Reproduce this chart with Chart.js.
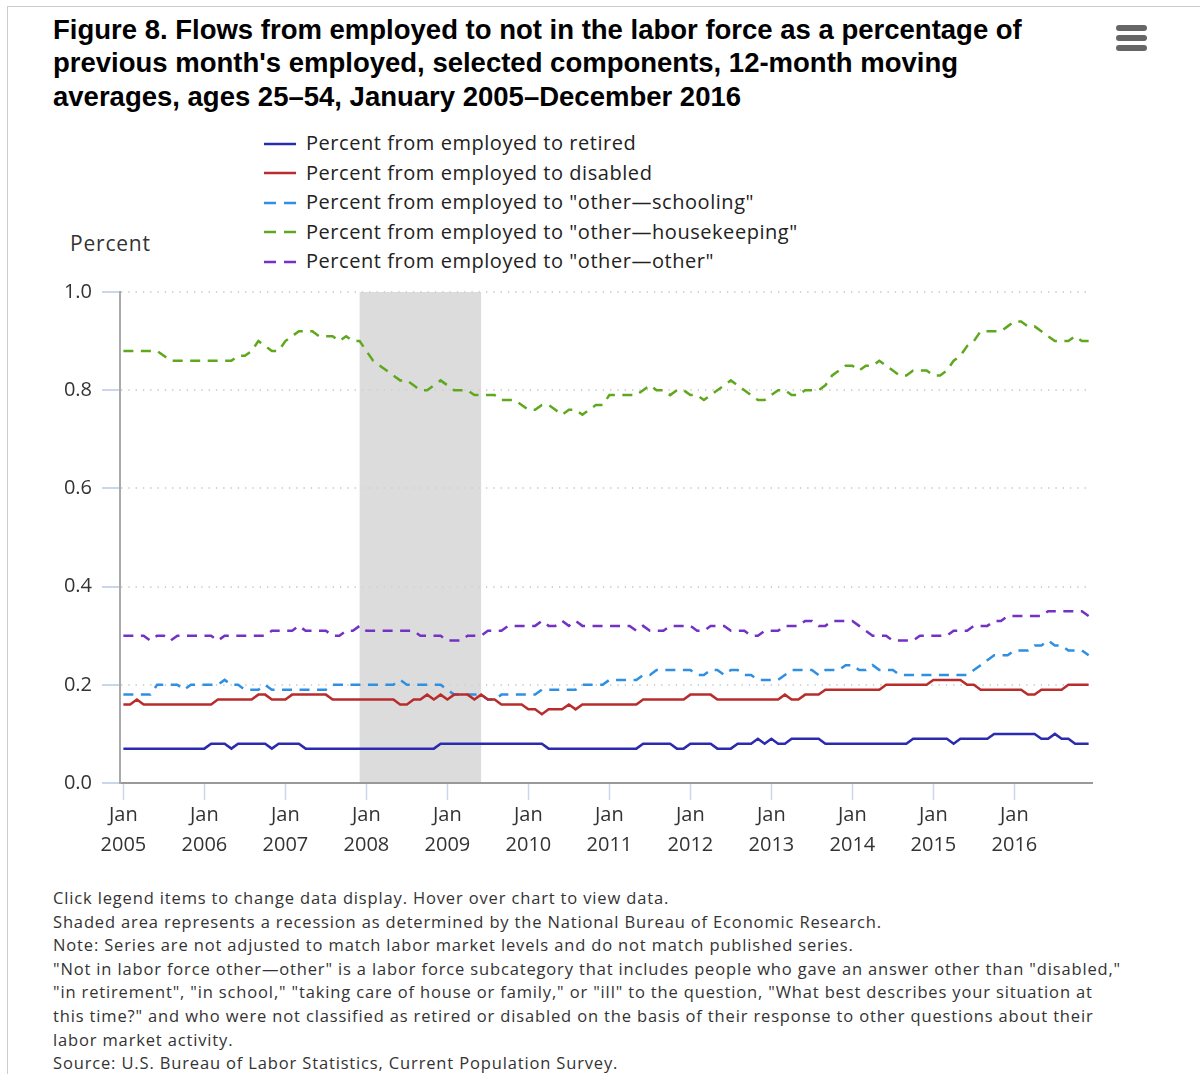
<!DOCTYPE html>
<html>
<head>
<meta charset="utf-8">
<script src="https://cdn.jsdelivr.net/npm/chart.js@4.4.1/dist/chart.umd.min.js"></script>
<style>
  html, body { margin: 0; padding: 0; background: #fff; }
  #wrap { position: relative; width: 1200px; height: 1074px; overflow: hidden; font-family: "Open Sans", sans-serif; }
  #frame { position: absolute; left: 7px; top: 6px; width: 1300px; height: 1200px; border: 1px solid #ccc; }
  #title { position: absolute; left: 53px; top: 13px; font: bold 27.5px/33.4px "Liberation Sans", Arial, sans-serif; color: #000; white-space: nowrap; }
  #menu { position: absolute; left: 1116px; top: 25px; width: 31px; }
  #menu div { height: 6px; background: #666; border-radius: 3px; margin-bottom: 4px; }
  #legend { position: absolute; left: 264px; top: 128px; font-size: 20px; letter-spacing: 0.55px; color: #222; }
  #legend .item { height: 29.5px; line-height: 29.5px; white-space: nowrap; }
  #legend svg { vertical-align: middle; margin-right: 10px; position: relative; top: -1px; }
  #ylabel { position: absolute; left: 70px; top: 229px; font-size: 21px; letter-spacing: 0.8px; color: #333; }
  #chart { position: absolute; left: 0; top: 270px; }
  #notes { position: absolute; left: 53px; top: 886px; font-size: 16.5px; letter-spacing: 0.85px; line-height: 23.6px; color: #333; white-space: nowrap; }
</style>
</head>
<body>
<div id="wrap">
  <div id="frame"></div>
  <div id="title">Figure 8. Flows from employed to not in the labor force as a percentage of<br>previous month's employed, selected components, 12-month moving<br>averages, ages 25–54, January 2005–December 2016</div>
  <div id="menu"><div></div><div></div><div></div></div>
  <div id="legend"></div>
  <div id="ylabel">Percent</div>
  <canvas id="chart" width="1110" height="600"></canvas>
  <div id="notes">
    Click legend items to change data display. Hover over chart to view data.<br>
    Shaded area represents a recession as determined by the National Bureau of Economic Research.<br>
    Note: Series are not adjusted to match labor market levels and do not match published series.<br>
    "Not in labor force other—other" is a labor force subcategory that includes people who gave an answer other than "disabled,"<br>
    "in retirement", "in school," "taking care of house or family," or "ill" to the question, "What best describes your situation at<br>
    this time?" and who were not classified as retired or disabled on the basis of their response to other questions about their<br>
    labor market activity.<br>
    Source: U.S. Bureau of Labor Statistics, Current Population Survey.
  </div>
</div>
<script>
// monthly, Jan 2005 - Dec 2016 (one row per year)
const years = [2005, 2006, 2007, 2008, 2009, 2010, 2011, 2012, 2013, 2014, 2015, 2016];
const yTicks = [0, 0.2, 0.4, 0.6, 0.8, 1.0];
const recession = ['2007-12', '2009-06'];

const retired = [
  .07,.07,.07,.07,.07,.07,.07,.07,.07,.07,.07,.07,
  .07,.08,.08,.08,.07,.08,.08,.08,.08,.08,.07,.08,
  .08,.08,.08,.07,.07,.07,.07,.07,.07,.07,.07,.07,
  .07,.07,.07,.07,.07,.07,.07,.07,.07,.07,.07,.08,
  .08,.08,.08,.08,.08,.08,.08,.08,.08,.08,.08,.08,
  .08,.08,.08,.07,.07,.07,.07,.07,.07,.07,.07,.07,
  .07,.07,.07,.07,.07,.08,.08,.08,.08,.08,.07,.07,
  .08,.08,.08,.08,.07,.07,.07,.08,.08,.08,.09,.08,
  .09,.08,.08,.09,.09,.09,.09,.09,.08,.08,.08,.08,
  .08,.08,.08,.08,.08,.08,.08,.08,.08,.09,.09,.09,
  .09,.09,.09,.08,.09,.09,.09,.09,.09,.10,.10,.10,
  .10,.10,.10,.10,.09,.09,.10,.09,.09,.08,.08,.08,
];
const disabled = [
  .16,.16,.17,.16,.16,.16,.16,.16,.16,.16,.16,.16,
  .16,.16,.17,.17,.17,.17,.17,.17,.18,.18,.17,.17,
  .17,.18,.18,.18,.18,.18,.18,.17,.17,.17,.17,.17,
  .17,.17,.17,.17,.17,.16,.16,.17,.17,.18,.17,.18,
  .17,.18,.18,.18,.17,.18,.17,.17,.16,.16,.16,.16,
  .15,.15,.14,.15,.15,.15,.16,.15,.16,.16,.16,.16,
  .16,.16,.16,.16,.16,.17,.17,.17,.17,.17,.17,.17,
  .18,.18,.18,.18,.17,.17,.17,.17,.17,.17,.17,.17,
  .17,.17,.18,.17,.17,.18,.18,.18,.19,.19,.19,.19,
  .19,.19,.19,.19,.19,.20,.20,.20,.20,.20,.20,.20,
  .21,.21,.21,.21,.21,.20,.20,.19,.19,.19,.19,.19,
  .19,.19,.18,.18,.19,.19,.19,.19,.20,.20,.20,.20,
];
const schooling = [
  .18,.18,.18,.18,.18,.20,.20,.20,.20,.19,.20,.20,
  .20,.20,.20,.21,.20,.20,.19,.19,.19,.20,.19,.19,
  .19,.19,.19,.19,.19,.19,.19,.20,.20,.20,.20,.20,
  .20,.20,.20,.20,.20,.21,.20,.20,.20,.20,.20,.20,
  .19,.18,.18,.18,.18,.18,.17,.17,.18,.18,.18,.18,
  .18,.18,.19,.19,.19,.19,.19,.19,.20,.20,.20,.20,
  .21,.21,.21,.21,.21,.22,.22,.23,.23,.23,.23,.23,
  .23,.22,.22,.23,.23,.22,.23,.23,.22,.22,.21,.21,
  .21,.21,.22,.23,.23,.23,.23,.22,.23,.23,.23,.24,
  .24,.23,.23,.24,.23,.23,.23,.22,.22,.22,.22,.22,
  .22,.22,.22,.22,.22,.22,.23,.24,.25,.26,.26,.26,
  .27,.27,.27,.28,.28,.29,.28,.28,.27,.27,.27,.26,
];
const housekeeping = [
  .88,.88,.88,.88,.88,.88,.87,.86,.86,.86,.86,.86,
  .86,.86,.86,.86,.86,.87,.87,.88,.90,.89,.88,.88,
  .90,.91,.92,.92,.92,.91,.91,.91,.90,.91,.90,.90,
  .88,.86,.85,.84,.83,.82,.82,.81,.80,.80,.81,.82,
  .81,.80,.80,.80,.79,.79,.79,.79,.78,.78,.78,.77,
  .76,.76,.77,.77,.76,.75,.76,.76,.75,.76,.77,.77,
  .79,.79,.79,.79,.79,.80,.81,.80,.80,.79,.80,.80,
  .79,.79,.78,.79,.80,.81,.82,.81,.80,.79,.78,.78,
  .79,.80,.80,.79,.79,.80,.80,.80,.81,.83,.84,.85,
  .85,.84,.85,.85,.86,.85,.84,.83,.83,.84,.84,.84,
  .83,.83,.84,.86,.87,.89,.90,.92,.92,.92,.92,.93,
  .94,.94,.93,.93,.92,.91,.90,.90,.90,.91,.90,.90,
];
const otherOther = [
  .30,.30,.30,.30,.29,.30,.30,.29,.30,.30,.30,.30,
  .30,.30,.29,.30,.30,.30,.30,.30,.30,.30,.31,.31,
  .31,.31,.32,.31,.31,.31,.31,.30,.30,.31,.31,.32,
  .31,.31,.31,.31,.31,.31,.31,.31,.30,.30,.30,.30,
  .29,.29,.29,.30,.30,.30,.31,.31,.31,.32,.32,.32,
  .32,.32,.33,.32,.32,.33,.32,.33,.32,.32,.32,.32,
  .32,.32,.32,.32,.31,.32,.31,.31,.31,.32,.32,.32,
  .32,.31,.31,.32,.32,.32,.31,.31,.31,.30,.30,.31,
  .31,.31,.32,.32,.32,.33,.33,.32,.32,.33,.33,.33,
  .33,.32,.31,.30,.30,.30,.29,.29,.29,.29,.30,.30,
  .30,.30,.30,.31,.31,.31,.32,.32,.32,.33,.33,.34,
  .34,.34,.34,.34,.34,.35,.35,.35,.35,.35,.35,.34,
];

const months = [];
years.forEach(y => { for (let m = 1; m <= 12; m++) months.push(`${y}-${String(m).padStart(2, '0')}`); });

const series = [
  { label: 'Percent from employed to retired', data: retired, color: '#2b2bb0', dash: [] },
  { label: 'Percent from employed to disabled', data: disabled, color: '#b82c2c', dash: [] },
  { label: 'Percent from employed to "other\u2014schooling"', data: schooling, color: '#2f8fe3', dash: [10, 7.5] },
  { label: 'Percent from employed to "other\u2014housekeeping"', data: housekeeping, color: '#5fa81e', dash: [10, 7.5] },
  { label: 'Percent from employed to "other\u2014other"', data: otherOther, color: '#7432c4', dash: [10, 7.5] },
];

/* ── legend (html) ─────────────────────────────── */
const legendEl = document.getElementById('legend');
series.forEach(s => {
  const row = document.createElement('div');
  row.className = 'item';
  const dashAttr = s.dash.length ? 'stroke-dasharray="12,8"' : '';
  row.innerHTML = `<svg width="32" height="6"><line x1="0" y1="3" x2="32" y2="3" stroke="${s.color}" stroke-width="2.5" ${dashAttr}/></svg>`;
  row.appendChild(document.createTextNode(s.label));
  legendEl.appendChild(row);
});

/* ── recession band ────────────────────────────── */
const recessionBand = {
  id: 'recessionBand',
  beforeDraw(chart) {
    const { ctx, chartArea, scales: { x } } = chart;
    const x1 = x.getPixelForValue(months.indexOf(recession[0]));
    const x2 = x.getPixelForValue(months.indexOf(recession[1]));
    ctx.save();
    ctx.fillStyle = '#dcdcdc';
    ctx.fillRect(x1, chartArea.top, x2 - x1, chartArea.bottom - chartArea.top);
    ctx.restore();
  },
};

const tickFont = { family: '"Open Sans", sans-serif', size: 20, lineHeight: 1.5 };

new Chart(document.getElementById('chart'), {
  type: 'line',
  data: {
    labels: months,
    datasets: series.map(s => ({
      label: s.label,
      data: s.data,
      borderColor: s.color,
      backgroundColor: s.color,
      borderWidth: 2.5,
      borderDash: s.dash,
      pointRadius: 0,
      tension: 0,
      fill: false,
    })),
  },
  options: {
    responsive: false,
    animation: false,
    devicePixelRatio: 1,
    layout: { padding: { left: 0, top: 20, right: 18, bottom: 0 } },
    plugins: { legend: { display: false }, tooltip: { enabled: false } },
    scales: {
      x: {
        type: 'category',
        offset: true,
        grid: { drawOnChartArea: false, tickLength: 17, tickColor: '#ccd6eb', tickWidth: 1.5 },
        border: { color: '#999', width: 2 },
        ticks: {
          autoSkip: false,
          maxRotation: 0,
          padding: 0,
          color: '#333',
          font: tickFont,
          callback: (v, i) => months[i].endsWith('-01') ? ['Jan', months[i].slice(0, 4)] : null,
        },
        afterFit: s => { s.height = 87; },
      },
      y: {
        min: 0,
        max: 1,
        afterBuildTicks: s => { s.ticks = yTicks.map(v => ({ value: v })); },
        grid: { color: '#d2d2d2', lineWidth: 2, tickLength: 18, tickColor: '#ccd6eb', tickWidth: 2 },
        border: { color: '#aaa', width: 2, dash: [1.3, 6] },
        ticks: { padding: 10, color: '#333', font: { family: '"Open Sans", sans-serif', size: 20 }, callback: v => Number(v).toFixed(1) },
        afterFit: s => { s.width = 120; },
      },
    },
  },
  plugins: [recessionBand],
});
</script>
</body>
</html>
